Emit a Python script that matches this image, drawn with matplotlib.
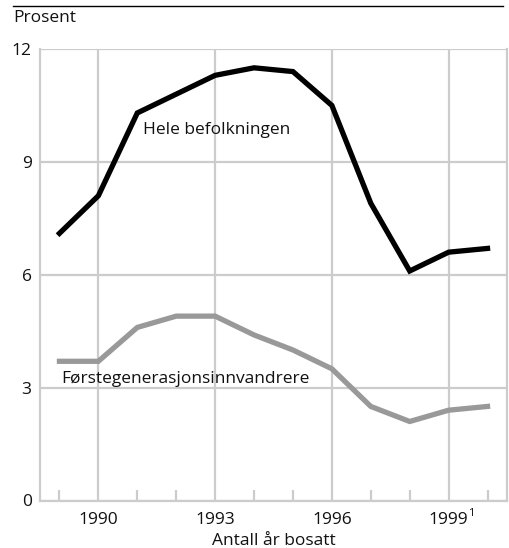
import matplotlib
matplotlib.use("Agg")
import matplotlib.pyplot as plt
from matplotlib.lines import Line2D

years = [1989, 1990, 1991, 1992, 1993, 1994, 1995, 1996, 1997, 1998, 1999, 2000]
hele = [7.1, 8.1, 10.3, 10.8, 11.3, 11.5, 11.4, 10.5, 7.9, 6.1, 6.6, 6.7]
forste = [3.7, 3.7, 4.6, 4.9, 4.9, 4.4, 4.0, 3.5, 2.5, 2.1, 2.4, 2.5]
xtick_vals = [1990, 1993, 1996, 1999]
xtick_labels = ["1990", "1993", "1996", "1999"]
ytick_vals = [0, 3, 6, 9, 12]

plt.rcParams['font.family'] = ['Open Sans', 'DejaVu Sans']

FS = 12.5
fig = plt.figure(figsize=(5.10, 5.48), dpi=100)
W, H = 510, 548
ax = fig.add_axes([40 / W, 1 - 500.5 / H, (507 - 40) / W, (500.5 - 49) / H])

grid_c = '#cccccc'
ax.plot(years, hele, color='black', lw=3.8, solid_joinstyle='miter', zorder=3)
ax.plot(years, forste, color='#999999', lw=3.8, solid_joinstyle='miter', zorder=3)

ax.set_xlim(1988.5, 2000.5)
ax.set_ylim(0, 12)
ax.set_yticks(ytick_vals)
ax.set_xticks(xtick_vals)
ax.set_xticklabels(xtick_labels)
ax.set_xticks(years, minor=True)

ax.grid(True, which='major', color=grid_c, lw=1.6, zorder=0)
for s in ['left', 'right', 'bottom']:
    ax.spines[s].set_color(grid_c)
    ax.spines[s].set_linewidth(1.6)
ax.spines['top'].set_visible(False)

ax.tick_params(axis='y', length=0, labelsize=FS, pad=6, colors='#111111')
ax.tick_params(axis='x', which='both', direction='in', length=8, width=1.6, color=grid_c,
               labelsize=FS, pad=8.6, labelcolor='#111111')
ax.tick_params(axis='x', which='major', length=0)

# superscript footnote marker on 1999
ax.annotate('1', xy=(1999, 0), xycoords='data', xytext=(19, -7),
            textcoords='offset pixels', fontsize=8, ha='left', va='top', color='#111111')

ax.set_xlabel('Antall år bosatt', fontsize=FS, labelpad=3.5, color='#111111')

ax.text(1991.15, 9.85, 'Hele befolkningen', fontsize=FS, va='center', ha='left', color='#111111')
ax.text(1989.05, 3.22, 'Førstegenerasjonsinnvandrere', fontsize=FS, va='center', ha='left',
        color='#111111')

fig.text(13 / W, 1 - 18 / H, 'Prosent', fontsize=FS, va='center', ha='left', color='#111111')
fig.add_artist(Line2D([13 / W, 503 / W], [1 - 6 / H, 1 - 6 / H], color='black', lw=1.0,
                      transform=fig.transFigure))

fig.savefig('out.png', dpi=100)
